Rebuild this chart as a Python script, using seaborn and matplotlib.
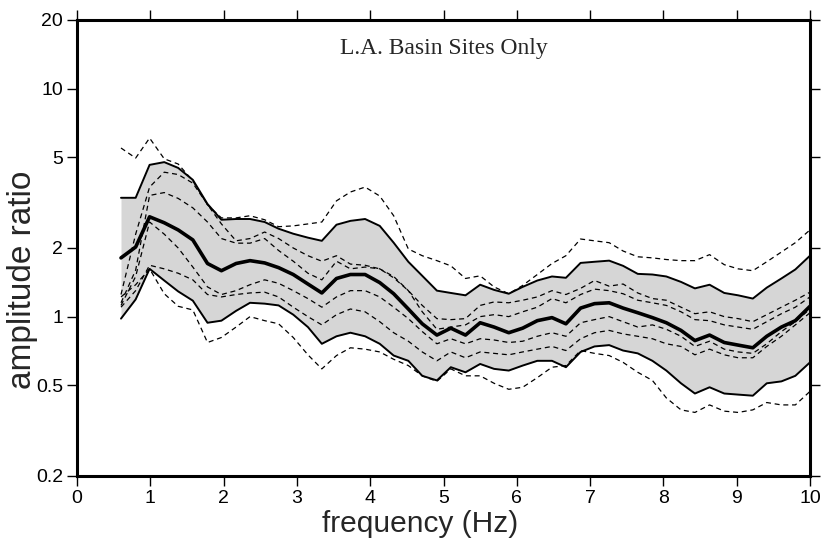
import matplotlib
matplotlib.use("Agg")
import matplotlib.pyplot as plt
import seaborn as sns
import pandas as pd
from matplotlib.ticker import NullLocator

# frequency samples (Hz)
freq = [0.60, 0.80, 0.99, 1.19, 1.38, 1.58, 1.78, 1.97, 2.17, 2.36,
        2.56, 2.75, 2.95, 3.15, 3.34, 3.54, 3.73, 3.93, 4.13, 4.32,
        4.52, 4.71, 4.91, 5.10, 5.30, 5.50, 5.69, 5.89, 6.08, 6.28,
        6.48, 6.67, 6.87, 7.06, 7.26, 7.45, 7.65, 7.85, 8.04, 8.24,
        8.43, 8.63, 8.83, 9.02, 9.22, 9.41, 9.61, 9.80, 10.00]

median = [1.81, 2.02, 2.74, 2.58, 2.40, 2.17, 1.71, 1.59, 1.71, 1.76,
          1.72, 1.64, 1.53, 1.39, 1.27, 1.47, 1.53, 1.53, 1.41, 1.26,
          1.08, 0.93, 0.83, 0.89, 0.83, 0.94, 0.90, 0.85, 0.89, 0.96,
          0.99, 0.93, 1.09, 1.14, 1.15, 1.09, 1.04, 0.99, 0.94, 0.87,
          0.785, 0.83, 0.77, 0.75, 0.73, 0.82, 0.90, 0.96, 1.11]

upper = [3.32, 3.32, 4.63, 4.76, 4.49, 3.98, 3.12, 2.66, 2.68, 2.68,
         2.60, 2.43, 2.31, 2.22, 2.15, 2.53, 2.63, 2.68, 2.50, 2.11,
         1.74, 1.51, 1.30, 1.27, 1.24, 1.38, 1.31, 1.26, 1.35, 1.44,
         1.50, 1.48, 1.72, 1.74, 1.76, 1.67, 1.54, 1.53, 1.50, 1.42,
         1.33, 1.38, 1.27, 1.24, 1.20, 1.34, 1.47, 1.61, 1.85]

lower = [0.98, 1.19, 1.62, 1.44, 1.29, 1.175, 0.94, 0.96, 1.06, 1.15,
         1.14, 1.12, 1.02, 0.90, 0.76, 0.82, 0.85, 0.82, 0.76, 0.675,
         0.64, 0.55, 0.525, 0.60, 0.57, 0.62, 0.59, 0.58, 0.61, 0.64,
         0.64, 0.60, 0.70, 0.74, 0.75, 0.71, 0.69, 0.64, 0.58, 0.51,
         0.46, 0.49, 0.46, 0.455, 0.45, 0.51, 0.52, 0.55, 0.63]

max_dash = [5.49, 4.96, 6.07, 4.92, 4.67, 3.94, 3.09, 2.71, 2.71, 2.77,
            2.66, 2.48, 2.50, 2.55, 2.60, 3.22, 3.52, 3.70, 3.38, 2.77,
            1.98, 1.85, 1.76, 1.67, 1.47, 1.51, 1.35, 1.26, 1.37, 1.53,
            1.71, 1.85, 2.19, 2.15, 2.11, 1.94, 1.83, 1.81, 1.78, 1.76,
            1.76, 1.87, 1.69, 1.62, 1.59, 1.74, 1.92, 2.11, 2.40]

min_dash = [1.22, 1.38, 1.62, 1.26, 1.11, 1.07, 0.77, 0.81, 0.90, 1.00,
            0.96, 0.93, 0.81, 0.68, 0.59, 0.675, 0.73, 0.72, 0.70, 0.65,
            0.61, 0.55, 0.52, 0.59, 0.55, 0.55, 0.51, 0.48, 0.49, 0.54,
            0.60, 0.61, 0.71, 0.69, 0.675, 0.63, 0.57, 0.525, 0.44, 0.39,
            0.38, 0.41, 0.385, 0.38, 0.39, 0.42, 0.41, 0.41, 0.47]

inner_u1 = [1.25, 2.30, 3.70, 4.30, 4.20, 3.85, 3.10, 2.55, 2.15, 2.20,
            2.35, 2.20, 2.00, 1.85, 1.75, 1.85, 1.70, 1.68, 1.62, 1.48,
            1.30, 1.12, 0.98, 0.97, 0.98, 1.12, 1.16, 1.15, 1.18, 1.22,
            1.30, 1.25, 1.33, 1.44, 1.36, 1.39, 1.27, 1.20, 1.18, 1.10,
            1.03, 1.05, 1.00, 0.98, 0.95, 1.02, 1.10, 1.18, 1.28]

inner_u2 = [1.15, 1.60, 3.40, 3.50, 3.30, 3.00, 2.60, 2.20, 2.10, 2.10,
            2.20, 1.95, 1.75, 1.55, 1.45, 1.75, 1.62, 1.65, 1.62, 1.50,
            1.30, 1.05, 0.88, 0.90, 0.92, 1.00, 1.02, 1.00, 1.05, 1.10,
            1.20, 1.15, 1.25, 1.32, 1.30, 1.26, 1.18, 1.15, 1.12, 1.05,
            0.97, 0.96, 0.92, 0.90, 0.88, 0.95, 1.03, 1.10, 1.22]

inner_l1 = [1.12, 1.50, 2.60, 2.30, 2.00, 1.65, 1.35, 1.25, 1.30, 1.38,
            1.45, 1.40, 1.30, 1.20, 1.10, 1.22, 1.30, 1.30, 1.22, 1.10,
            0.98, 0.86, 0.76, 0.80, 0.76, 0.80, 0.79, 0.77, 0.78, 0.82,
            0.85, 0.82, 0.94, 0.97, 1.00, 0.95, 0.90, 0.92, 0.88, 0.82,
            0.74, 0.78, 0.72, 0.70, 0.69, 0.76, 0.86, 0.95, 1.08]

inner_l2 = [1.10, 1.30, 1.68, 1.62, 1.55, 1.45, 1.25, 1.22, 1.25, 1.27,
            1.28, 1.22, 1.10, 1.00, 0.92, 1.02, 1.08, 1.05, 0.95, 0.85,
            0.78, 0.70, 0.64, 0.70, 0.66, 0.70, 0.69, 0.68, 0.70, 0.72,
            0.74, 0.71, 0.80, 0.85, 0.87, 0.84, 0.82, 0.80, 0.76, 0.74,
            0.68, 0.72, 0.68, 0.66, 0.66, 0.74, 0.82, 0.92, 1.04]

yticks = [0.2, 0.5, 1, 2, 5, 10, 20]
ytick_labels = ["0.2", "0.5", "1", "2", "5", "10", "20"]

df = pd.DataFrame({"freq": freq, "median": median, "upper": upper, "lower": lower,
                   "max": max_dash, "min": min_dash, "u1": inner_u1, "u2": inner_u2,
                   "l1": inner_l1, "l2": inner_l2})

sns.set_style("ticks")
plt.rcParams["font.family"] = ["Liberation Sans Narrow", "Liberation Sans", "DejaVu Sans"]

fig = plt.figure(figsize=(8.22, 5.43), dpi=100)
ax = fig.add_axes([0.0937, 0.1234, 0.8917, 0.8398])

ax.fill_between(df["freq"], df["lower"], df["upper"], color="#d6d6d6", lw=0, zorder=1)

dash = (0, (4, 3))
for col in ["u1", "u2", "l1", "l2", "max", "min"]:
    sns.lineplot(data=df, x="freq", y=col, ax=ax, color="black", lw=0.9,
                 linestyle=dash, estimator=None, zorder=2)
for col in ["upper", "lower"]:
    sns.lineplot(data=df, x="freq", y=col, ax=ax, color="black", lw=1.4,
                 estimator=None, zorder=3)
sns.lineplot(data=df, x="freq", y="median", ax=ax, color="black", lw=2.6,
             estimator=None, zorder=4)

ax.set_yscale("log")
ax.set_ylim(0.2, 20)
ax.set_xlim(0, 10)
ax.set_yticks(yticks)
ax.set_yticklabels(ytick_labels)
ax.yaxis.set_minor_locator(NullLocator())
ax.set_xticks(range(0, 11))

for s in ax.spines.values():
    s.set_linewidth(2.2)
    s.set_color("black")
ax.tick_params(axis="both", which="major", direction="out", length=7, width=1,
               labelsize=14, top=True, right=True, labeltop=False, labelright=False,
               colors="black", pad=3)

ax.set_xlabel("frequency (Hz)", fontsize=21.5,
              family=["Liberation Sans", "DejaVu Sans"])
ax.set_ylabel("amplitude ratio", fontsize=24,
              family=["Liberation Sans", "DejaVu Sans"])
ax.xaxis.set_label_coords(0.468, -0.074)
ax.yaxis.set_label_coords(-0.053, 0.43)

ax.text(0.5, 0.937, "L.A. Basin Sites Only", transform=ax.transAxes, ha="center",
        va="center", fontsize=17, family=["Liberation Serif", "DejaVu Serif"])

fig.savefig("out.png", dpi=100)
